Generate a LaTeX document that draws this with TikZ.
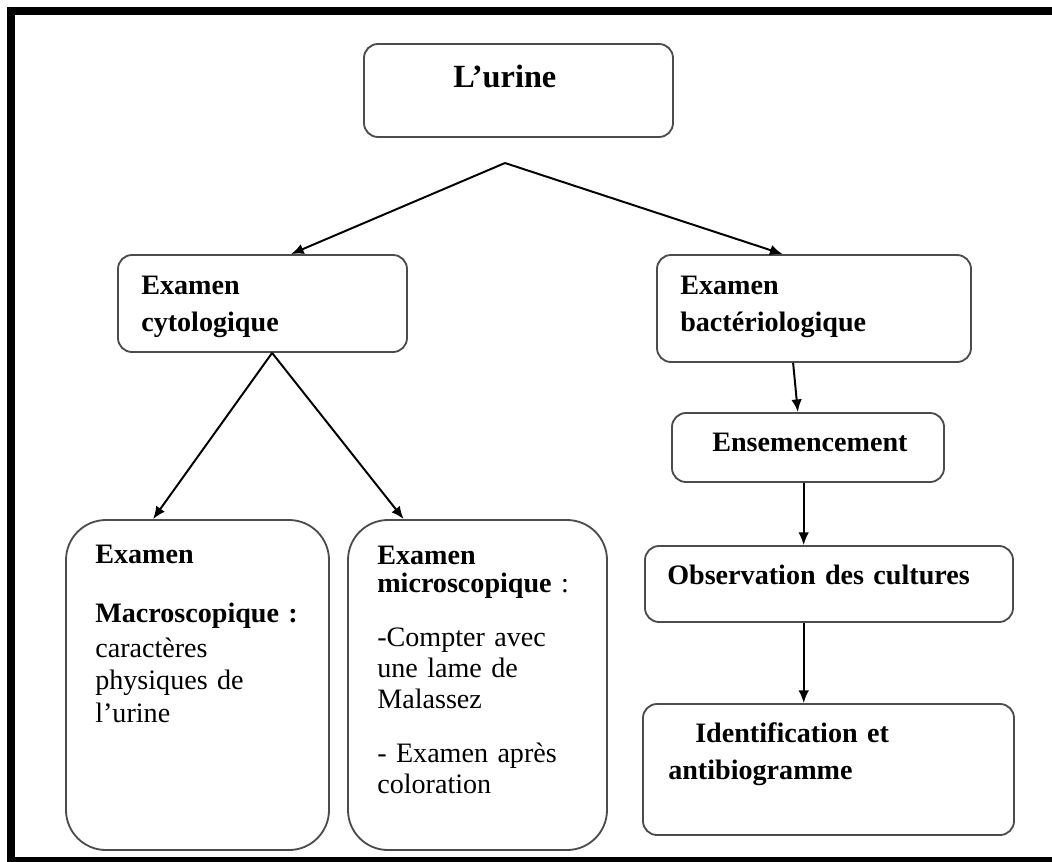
\documentclass[tikz,border=0pt]{standalone}
\usepackage{fontspec}
\setmainfont{Liberation Serif}
\usetikzlibrary{positioning,arrows.meta}

\begin{document}
\begin{tikzpicture}[
		boite/.style={draw=black!70,line width=1.3pt,rounded corners=0.35cm,fill=white,inner sep=0pt},
		texte/.style={anchor=base west,inner sep=0pt,text width=7cm,align=left,font=\fontsize{20}{22}\selectfont},
		fleche/.style={-{Latex[length=9pt,width=7.5pt]},line width=1.4pt}]
			\useasboundingbox (0,0) rectangle (26.3,-21.525);
			\clip (0,0) rectangle (26.3,-21.525);
			\draw[line width=5.7pt] (0.275,-0.275) rectangle (27,-21.525);
			% haut
			\node[boite,minimum width=7.725cm,minimum height=2.325cm] (urine) at (12.9625,-2.2625) {};
			\node[texte,font=\fontsize{23}{25}\selectfont] (urinetxt) at (11.325,-2.175) {\textbf{L’urine}};
			\coordinate (fourche) at (12.625,-4.075);
			\node[boite,minimum width=7.225cm,minimum height=2.425cm] (cyto) at (6.5625,-7.5875) {};
			\node[texte] (cytotxt) at (3.525,-7.35) {\textbf{Examen}\\[4.7pt]\textbf{cytologique}};
			\node[boite,minimum width=7.85cm,minimum height=2.675cm] (bact) at (20.35,-7.7125) {};
			\node[texte] (bacttxt) at (17,-7.35) {\textbf{Examen}\\[4.7pt]\textbf{bactériologique}};
			% colonne de droite
			\node[boite,minimum width=6.8cm,minimum height=1.725cm] (ens) at (20.2,-11.1875) {};
			\node[texte] (enstxt) at (17.8,-11.275) {\textbf{Ensemencement}};
			\node[boite,minimum width=9.2cm,minimum height=1.9cm] (obs) at (20.725,-14.6) {};
			\node[texte,text width=8.5cm] (obstxt) at (16.675,-14.6) {\textbf{Observation des cultures}};
			\node[boite,minimum width=9.275cm,minimum height=3.275cm] (ident) at (20.7125,-19.2375) {};
			\node[texte] (identtxt) at (16.7,-18.55) {\hspace*{0.675cm}\textbf{Identification et}\\[5pt]\textbf{antibiogramme}};
			% examens cytologiques
			\node[boite,rounded corners=1cm,minimum width=6.575cm,minimum height=8.25cm] (macro) at (4.9375,-17.125) {};
			\node[texte] (macrotxt) at (2.375,-14.075) {\textbf{Examen}\\[20pt]\textbf{Macroscopique :}\\[2.9pt]caractères\\[1.2pt]physiques de\\[1.2pt]l’urine};
			\node[boite,rounded corners=1cm,minimum width=6.475cm,minimum height=8.25cm] (micro) at (11.9375,-17.125) {};
			\node[texte] (microtxt) at (9.425,-14.1) {\textbf{Examen}\\[-1.4pt]\textbf{microscopique} :\\[16.4pt]-Compter avec\\une lame de\\Malassez\\[16.4pt]- Examen après\\coloration};
			\draw[fleche] (fourche) -- (cyto.60);
			\draw[fleche] (fourche) -- (bact.120);
			\draw[fleche] (cyto.-79) -- (macro.105);
			\draw[fleche] (cyto.-79) -- (micro.114);
			\draw[fleche] (bact.-111) -- (ens.106);
			\draw[fleche] (ens.-97) -- (ens.-97 |- obs.north);
			\draw[fleche] (obs.-123) -- (obs.-123 |- ident.north);
		\end{tikzpicture}
\end{document}
